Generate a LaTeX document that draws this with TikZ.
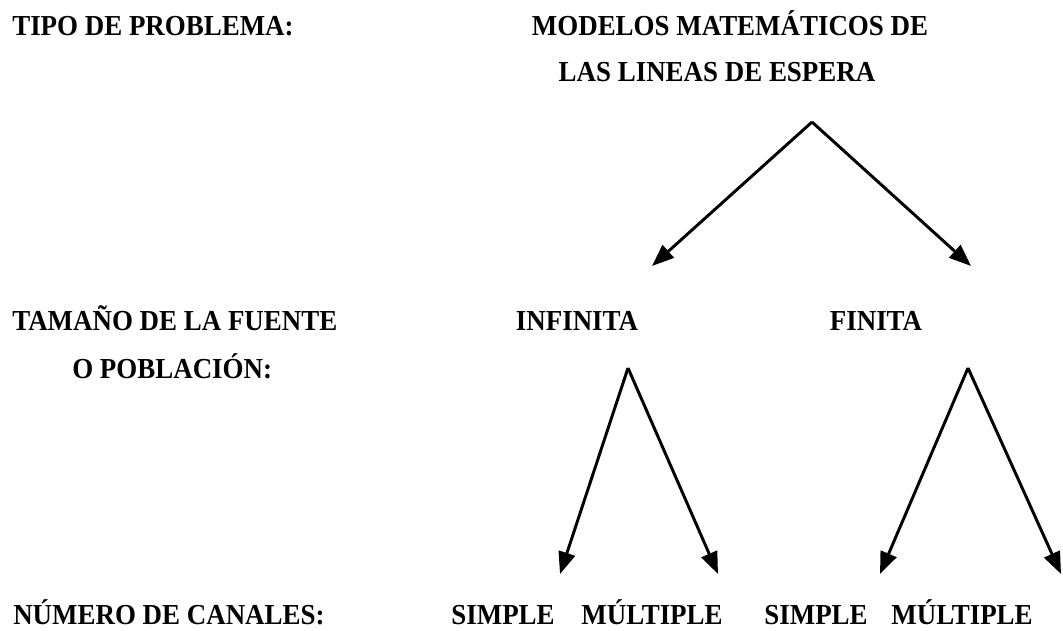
\documentclass[tikz,border=0pt]{standalone}
\usepackage{fontspec}
\setmainfont{Liberation Serif}[BoldFeatures={FakeStretch=0.93}]
\usepackage{tikz}
\usetikzlibrary{arrows.meta, positioning}

\tikzset{
	etiqueta/.style={inner sep=0pt, font=\fontsize{20.6}{24}\selectfont\bfseries},
	rama/.style={line width=2.1pt, -{Triangle[length=0.55cm, width=0.42cm]}}
}

\begin{document}
\begin{tikzpicture}[x=0.025cm, y=-0.025cm]
			% Area of the picture
			\useasboundingbox (0,0) rectangle (1063,630);
			
			% Row titles (left)
			\node[etiqueta, anchor=base west] (tipo) at (12,36) {TIPO DE PROBLEMA:};
			\node[etiqueta, anchor=base west] (tamano) at (12,330) {TAMAÑO DE LA FUENTE};
			\node[etiqueta, anchor=base west] (poblacion) at (72,378) {O POBLACIÓN:};
			\node[etiqueta, anchor=base west] (canales) at (13,624) {NÚMERO DE CANALES:};
			
			% Root
			\node[etiqueta, anchor=base] (modelos) at (730,36) {MODELOS MATEMÁTICOS DE};
			\node[etiqueta, anchor=base] (lineas) at (717,82) {LAS LINEAS DE ESPERA};
			
			% Source size
			\node[etiqueta, anchor=base] (infinita) at (577,330) {INFINITA};
			\node[etiqueta, anchor=base] (finita) at (876,330) {FINITA};
			
			% Number of channels
			\node[etiqueta, anchor=base] (simpleA) at (503,624) {SIMPLE};
			\node[etiqueta, anchor=base] (multipleA) at (652,624) {MÚLTIPLE};
			\node[etiqueta, anchor=base] (simpleB) at (816,624) {SIMPLE};
			\node[etiqueta, anchor=base] (multipleB) at (962,624) {MÚLTIPLE};
			
			% Ends of the arrows
			\coordinate (vtop) at (812,122);
			\coordinate (tinf) at (652,266);
			\coordinate (tfin) at (971,266);
			\coordinate (vinf) at (628,368);
			\coordinate (vfin) at (968,368);
			\coordinate (tsa) at (560,574);
			\coordinate (tma) at (718,574);
			\coordinate (tsb) at (880,574);
			\coordinate (tmb) at (1061,574);
			
			% Arrows
			\draw[rama] (vtop) -- (tinf);
			\draw[rama] (vtop) -- (tfin);
			\draw[rama] (vinf) -- (tsa);
			\draw[rama] (vinf) -- (tma);
			\draw[rama] (vfin) -- (tsb);
			\draw[rama] (vfin) -- (tmb);
			
		\end{tikzpicture}
\end{document}
